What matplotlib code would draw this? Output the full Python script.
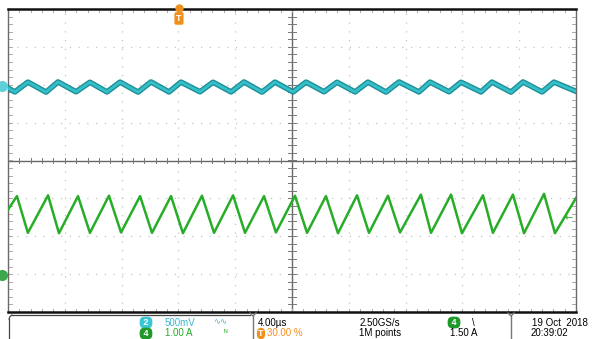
import numpy as np
import matplotlib
matplotlib.use("Agg")
import matplotlib.pyplot as plt
import matplotlib.patheffects as pe
from matplotlib.lines import Line2D

plt.rcParams['font.family'] = ['Liberation Sans', 'DejaVu Sans']

# ---- acquisition settings ----
time_per_div_us = 4.0
ch2_mv_per_div = 500.0
ch4_a_per_div = 1.0
ch2_offset_div = 1.97      # channel 2 reference level (divisions from centre)
ch4_offset_div = -3.02     # channel 4 ground level (divisions from centre)
trigger_pos_us = -7.96     # 30 % pre-trigger
trigger_level_a = 1.50

# ---- channel 4: inductor current, vertices (µs, A) ----
ch4_peak_t = [-19.37, -17.18, -15.07, -12.89, -10.70, -8.52, -6.34, -4.15, -1.97,
              0.21, 2.39, 4.58, 6.76, 9.08, 11.20, 13.45, 15.56, 17.75]
ch4_peak_a = [2.08, 2.10, 2.08, 2.09, 2.08, 2.08, 2.09, 2.10, 2.08,
              2.09, 2.08, 2.10, 2.09, 2.12, 2.12, 2.10, 2.12, 2.14]
ch4_trough_t = [-18.60, -16.41, -14.23, -12.04, -9.86, -7.68, -5.49, -3.31, -1.13,
                1.06, 3.24, 5.42, 7.61, 9.79, 11.97, 14.15, 16.34, 18.52]
ch4_trough_a = [1.11, 1.10, 1.11, 1.12, 1.11, 1.10, 1.11, 1.11, 1.12,
                1.11, 1.10, 1.11, 1.12, 1.11, 1.10, 1.11, 1.10, 1.10]
ch4_start = (-20.0, 1.72)
ch4_end = (20.0, 2.03)

# ---- channel 2: output voltage ripple, vertices (µs, mV) ----
ch2_trough_t = [-19.52, -17.32, -15.21, -13.03, -10.84, -8.66, -6.48, -4.29, -2.11,
                0.07, 2.25, 4.44, 6.62, 8.94, 11.06, 13.31, 15.42, 17.61]
ch2_trough_mv = [-80, -82, -78, -80, -82, -80, -78, -80, -82,
                 -80, -78, -80, -82, -80, -78, -80, -82, -80]
ch2_peak_t = [-18.60, -16.48, -14.23, -12.11, -9.93, -7.82, -5.56, -3.38, -1.20,
              0.99, 3.17, 5.35, 7.54, 9.72, 11.90, 14.08, 16.27, 18.45]
ch2_peak_mv = [50, 52, 48, 50, 52, 50, 48, 52, 50,
               50, 48, 50, 52, 50, 48, 50, 52, 50]
ch2_start = (-20.0, -28)
ch2_end = (20.0, -72)


def vertices(start, a_t, a_v, b_t, b_v, end):
    t = np.concatenate([[start[0]], a_t, b_t, [end[0]]])
    v = np.concatenate([[start[1]], a_v, b_v, [end[1]]])
    order = np.argsort(t)
    return t[order], v[order]


W, H = 592, 339
fig = plt.figure(figsize=(W / 100, H / 100), dpi=100)
fig.patch.set_facecolor('white')

L, R, T, B = 8, 576, 9, 312
ax = fig.add_axes([L / W, 1 - B / H, (R - L) / W, (B - T) / H])
ax.set_xlim(-20, 20)
ax.set_ylim(-4, 4)
ax.set_xticks([])
ax.set_yticks([])
for s in ['left', 'right']:
    ax.spines[s].set_color('#6a6a6a')
    ax.spines[s].set_linewidth(1.0)
for s in ['top', 'bottom']:
    ax.spines[s].set_color('#111111')
    ax.spines[s].set_linewidth(1.8)

# graticule
grid_kw = dict(color='#c4c4c4', lw=0.9, ls=(0, (1, 6)), zorder=1)
for k in range(-4, 5):
    if k != 0:
        ax.axvline(k * time_per_div_us, **grid_kw)
for k in range(-3, 4):
    if k != 0:
        ax.axhline(k, **grid_kw)
ax.axvline(0, color='#666666', lw=1.0, zorder=1)
ax.axhline(0, color='#666666', lw=1.0, zorder=1)

# minor ticks on centre lines and border
minor_x = np.arange(-20, 20.01, time_per_div_us / 5)
minor_y = np.arange(-4, 4.01, 0.2)
tx = 0.07
ty = 0.6
for x in minor_x:
    ax.plot([x, x], [-tx, tx], color='#777777', lw=0.7, zorder=1)
    ax.plot([x, x], [4 - tx, 4], color='#aaaaaa', lw=0.7, zorder=1)
    ax.plot([x, x], [-4, -4 + tx], color='#aaaaaa', lw=0.7, zorder=1)
for y in minor_y:
    ax.plot([-ty / 2, ty / 2], [y, y], color='#777777', lw=0.7, zorder=1)
    ax.plot([-20, -20 + ty / 2], [y, y], color='#aaaaaa', lw=0.7, zorder=1)
    ax.plot([20 - ty / 2, 20], [y, y], color='#aaaaaa', lw=0.7, zorder=1)

# channel 2 trace
t2, v2 = vertices(ch2_start, ch2_trough_t, ch2_trough_mv, ch2_peak_t, ch2_peak_mv, ch2_end)
ax.plot(t2, ch2_offset_div + v2 / ch2_mv_per_div, color='#35bfc9', lw=2.0, zorder=3,
        solid_joinstyle='round',
        path_effects=[pe.Stroke(linewidth=4.0, foreground='#1d8f98'), pe.Normal()])

# channel 4 trace
t4, v4 = vertices(ch4_start, ch4_peak_t, ch4_peak_a, ch4_trough_t, ch4_trough_a, ch4_end)
ax.plot(t4, ch4_offset_div + v4 / ch4_a_per_div, color='#27ad27', lw=1.8, zorder=3,
        solid_joinstyle='round')

# channel reference markers
ax.plot([-20.45], [ch2_offset_div], 'o', ms=7, color='#5fd0da', clip_on=False, zorder=5)
ax.plot([-20.45], [ch4_offset_div], 'o', ms=7, color='#3aa84a', clip_on=False, zorder=5)

# trigger level marker
ax.text(19.5, ch4_offset_div + trigger_level_a / ch4_a_per_div, '←', color='#27ad27',
        fontsize=7, ha='center', va='center', zorder=5, family=['DejaVu Sans'])

# trigger position marker
ax.plot([trigger_pos_us], [4.02], 'o', ms=5, color='#f0901c', clip_on=False, zorder=5)
ax.text(trigger_pos_us, 3.75, 'T', color='white', fontsize=6.5, fontweight='bold',
        ha='center', va='center', zorder=6, clip_on=False,
        bbox=dict(boxstyle='round,pad=0.2', fc='#f0901c', ec='none'))

# ---- status bar ----
def px(x, y):
    return x / W, 1 - y / H

def ftext(x, y, s, color='black', size=7, **kw):
    fx, fy = px(x, y)
    fig.text(fx, fy, s, color=color, fontsize=size, ha='left', va='center', **kw)

def badge(x, y, s, fc):
    fx, fy = px(x, y)
    fig.text(fx, fy, s, color='white', fontsize=6.5, fontweight='bold', ha='center', va='center',
             bbox=dict(boxstyle='round,pad=0.15,rounding_size=0.55', fc=fc, ec='none'))

def fline(xs, ys, color='#333333', lw=0.9):
    fig.add_artist(Line2D([x / W for x in xs], [1 - y / H for y in ys],
                          color=color, lw=lw, transform=fig.transFigure))

fline([12, 250], [315, 315], color='#444444')
fline([9, 9], [319, 339], color='#444444')
fline([9, 10, 12], [319, 316.5, 315], color='#444444')
for sx in [253, 511]:
    fline([sx, sx], [316, 339], color='#777777', lw=1.0)
    fline([sx - 3, sx, sx + 3], [313, 316, 313], color='#777777', lw=1.0)

row1, row2 = 322.5, 333.5
badge(146, row1, ' 2 ', '#39c6d6')
ftext(165, row1, '500mV', color='#39b8d0')
ftext(213, row1, '∿∿', color='#39b8d0', size=6)
badge(146, row2, ' 4 ', '#1f9a2a')
ftext(165, row2, '1.00 A', color='#27ad27')
ftext(224, row2, 'ᴺ', color='#27ad27', size=6)

ftext(258, row1, '4.00µs')
badge(261, row2, 'T', '#f0901c')
ftext(267, row2, '30.00 %', color='#f0901c')

ftext(360, row1, '2.50GS/s')
ftext(359, row2, '1M points')

badge(454, row1, ' 4 ', '#1f9a2a')
ftext(472, row1, '\\')
ftext(450, row2, '1.50 A')

ftext(532, row1, '19 Oct  2018')
ftext(531, row2, '20:39:02')

fig.savefig('out.png', dpi=100)
